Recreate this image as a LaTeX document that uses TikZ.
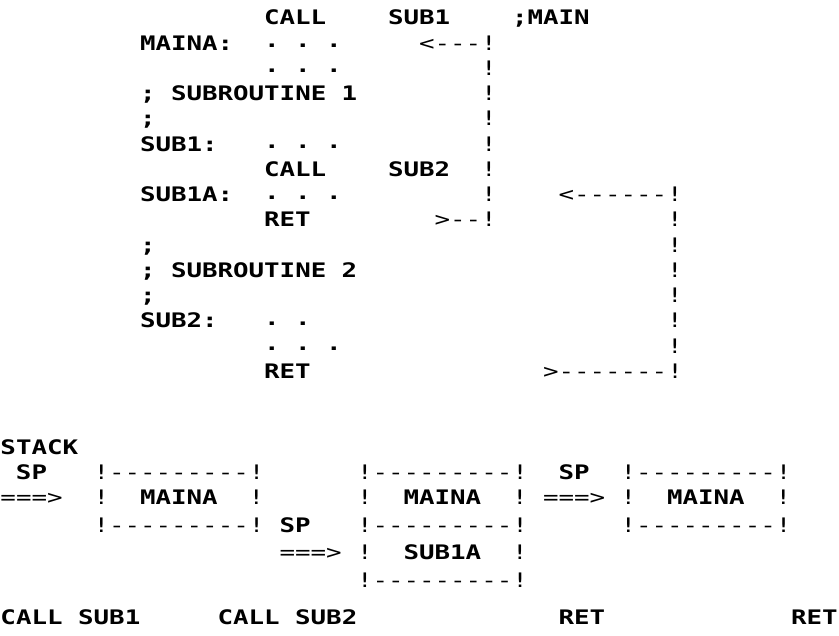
\documentclass[tikz,border=0pt]{standalone}
\usepackage{fontspec}
\newfontfamily\dm[FakeStretch=1.29,Ligatures=TeXOff]{DejaVu Sans Mono}
\tikzset{
  tx/.style={inner sep=0pt, outer sep=0pt, anchor=base west,
    font=\dm\fontsize{20}{20}\selectfont, text=black},
  txb/.style={tx, font=\dm\bfseries\fontsize{20}{20}\selectfont},
  dotm/.style={tx, yshift=2.5pt}}
% \T{name}{column}{row centre y}{text}  (rules, arrows)
\newcommand\T[4]{\node[tx] (#1) at ({#2*15.5+0.5},{#3+7.3}) {#4};}
% \W{name}{column}{row centre y}{text}  (words)
\newcommand\W[4]{\node[txb] (#1) at ({#2*15.5+0.5},{#3+7.3}) {#4};}
% \D{name}{column}{row centre y}  (ellipsis dot)
\newcommand\D[3]{\node[dotm] (#1) at ({#2*15.5+0.5},{#3+7.3}) {\bfseries .};}
\begin{document}
\begin{tikzpicture}[x=1pt,y=-1pt]
\fill[white] (0,0) rectangle (839,636);
\useasboundingbox (0,0) rectangle (839,636);
% ---------------- listing ----------------
% row 0
\W{callA}{17}{17.5}{CALL}
\W{subA}{25}{17.5}{SUB1}
\W{mainc}{33}{17.5}{;MAIN}
% row 1
\W{maina}{9}{42.75}{MAINA:}
\D{dAa}{17}{42.75}\D{dAb}{19}{42.75}\D{dAc}{21}{42.75}
\T{backA}{27}{42.75}{<---!}
% row 2
\D{dBa}{17}{68}\D{dBb}{19}{68}\D{dBc}{21}{68}
\T{vAb}{31}{68}{!}
% row 3
\W{scA}{9}{93.25}{;}\W{subrA}{11}{93.25}{SUBROUTINE}\W{one}{22}{93.25}{1}
\T{vAc}{31}{93.25}{!}
% row 4
\W{scB}{9}{118.5}{;}
\T{vAd}{31}{118.5}{!}
% row 5
\W{subAl}{9}{143.75}{SUB1:}
\D{dCa}{17}{143.75}\D{dCb}{19}{143.75}\D{dCc}{21}{143.75}
\T{vAe}{31}{143.75}{!}
% row 6
\W{callB}{17}{169}{CALL}
\W{subB}{25}{169}{SUB2}
\T{vAf}{31}{169}{!}
% row 7
\W{subAa}{9}{194.25}{SUB1A:}
\D{dDa}{17}{194.25}\D{dDb}{19}{194.25}\D{dDc}{21}{194.25}
\T{vAg}{31}{194.25}{!}
\T{backB}{36}{194.25}{<------!}
% row 8
\W{retA}{17}{219.5}{RET}
\T{fwdA}{28}{219.5}{>--!}
\T{vBa}{43}{219.5}{!}
% row 9
\W{scC}{9}{244.75}{;}
\T{vBb}{43}{244.75}{!}
% row 10
\W{scD}{9}{270}{;}\W{subrB}{11}{270}{SUBROUTINE}\W{two}{22}{270}{2}
\T{vBc}{43}{270}{!}
% row 11
\W{scE}{9}{295.25}{;}
\T{vBd}{43}{295.25}{!}
% row 12
\W{subBl}{9}{320.5}{SUB2:}
\D{dEa}{17}{320.5}\D{dEb}{19}{320.5}
\T{vBe}{43}{320.5}{!}
% row 13
\D{dFa}{17}{345.75}\D{dFb}{19}{345.75}\D{dFc}{21}{345.75}
\T{vBf}{43}{345.75}{!}
% row 14
\W{retB}{17}{371}{RET}
\T{fwdB}{35}{371}{>-------!}
% ---------------- stack ----------------
\W{stack}{0}{447}{STACK}
% row 18
\W{spA}{1}{472}{SP}
\T{bxAt}{6}{472}{!---------!}
\T{bxBt}{23}{472}{!---------!}
\W{spC}{36}{472}{SP}
\T{bxCt}{40}{472}{!---------!}
% row 19
\T{arA}{0}{497.5}{===>}
\T{bxAl}{6}{497.5}{!}\W{bxAm}{9}{497.5}{MAINA}\T{bxAr}{16}{497.5}{!}
\T{bxBl}{23}{497.5}{!}\W{bxBm}{26}{497.5}{MAINA}\T{bxBr}{33}{497.5}{!}
\T{arC}{35}{497.5}{===>}
\T{bxCl}{40}{497.5}{!}\W{bxCm}{43}{497.5}{MAINA}\T{bxCr}{50}{497.5}{!}
% row 20
\T{bxAb}{6}{525}{!---------!}
\W{spB}{18}{525}{SP}
\T{bxBd}{23}{525}{!---------!}
\T{bxCb}{40}{525}{!---------!}
% row 21
\T{arB}{18}{552}{===>}
\T{bxBl2}{23}{552}{!}\W{bxBs}{26}{552}{SUB1A}\T{bxBr2}{33}{552}{!}
% row 22
\T{bxBb}{23}{580}{!---------!}
% captions
\W{capA}{0}{617}{CALL SUB1}
\W{capB}{14}{617}{CALL SUB2}
\W{capC}{36}{617}{RET}
\W{capD}{51}{617}{RET}
\end{tikzpicture}
\end{document}
